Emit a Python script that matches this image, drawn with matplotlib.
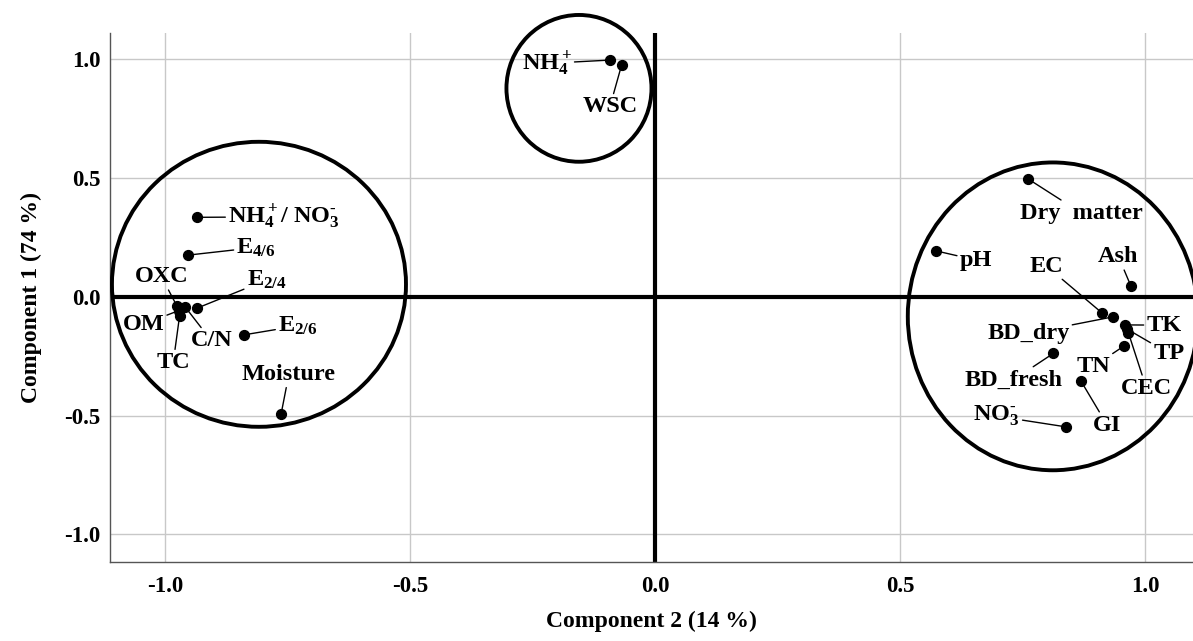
import matplotlib
matplotlib.use('Agg')
import matplotlib.pyplot as plt
from matplotlib.patches import Ellipse

plt.rcParams['font.family'] = ['Liberation Serif', 'DejaVu Serif']
plt.rcParams['font.weight'] = 'bold'
plt.rcParams['axes.unicode_minus'] = False
plt.rcParams['mathtext.fontset'] = 'custom'
plt.rcParams['mathtext.rm'] = 'Liberation Serif:bold'
plt.rcParams['mathtext.it'] = 'Liberation Serif:bold'
plt.rcParams['mathtext.bf'] = 'Liberation Serif:bold'

# loadings
variables = [r'NH$_4^+$/ NO$_3^{\text{-}}$', 'E$_{4/6}$', 'E$_{2/4}$', 'OXC', 'OM', 'TC', 'C/N',
             'E$_{2/6}$', 'Moisture', 'NH$_4^+$', 'WSC', 'Dry  matter', 'pH', 'Ash',
             'EC', 'BD_dry', 'TK', 'TP', 'CEC', 'TN', 'BD_fresh', 'GI', r'NO$_3^{\text{-}}$']
comp2 = [-0.935, -0.952, -0.935, -0.975, -0.972, -0.970, -0.958, -0.839, -0.763,
         -0.092, -0.068, 0.762, 0.573, 0.971, 0.912, 0.935, 0.960, 0.963, 0.966,
         0.957, 0.813, 0.869, 0.838]
comp1 = [0.335, 0.176, -0.048, -0.040, -0.058, -0.080, -0.044, -0.160, -0.495,
         0.997, 0.976, 0.496, 0.194, 0.047, -0.067, -0.084, -0.118, -0.135, -0.150,
         -0.207, -0.238, -0.353, -0.547]

# label placement (x, y, ha)
label_pos = [(-0.871, 0.337, 'left'), (-0.854, 0.208, 'left'), (-0.833, 0.071, 'left'),
             (-1.007, 0.085, 'center'), (-1.044, -0.115, 'center'), (-0.983, -0.277, 'center'),
             (-0.905, -0.185, 'center'), (-0.769, -0.122, 'left'), (-0.747, -0.326, 'center'),
             (-0.221, 0.983, 'center'), (-0.092, 0.800, 'center'), (0.871, 0.352, 'center'),
             (0.622, 0.155, 'left'), (0.946, 0.169, 'center'), (0.799, 0.130, 'center'),
             (0.762, -0.154, 'center'), (1.003, -0.119, 'left'), (1.017, -0.238, 'left'),
             (1.003, -0.385, 'center'), (0.894, -0.294, 'center'), (0.731, -0.350, 'center'),
             (0.923, -0.540, 'center'), (0.697, -0.502, 'center')]

# cluster outlines: centre x, centre y, width, height
groups = [(-0.808, 0.053, 0.600, 1.200), (-0.155, 0.878, 0.296, 0.618),
          (0.812, -0.082, 0.592, 1.296)]

fig = plt.figure(figsize=(11.93, 6.41), dpi=100)
ax = fig.add_axes([0.0922, 0.1237, 0.9078, 0.8248])

ax.set_xlim(-1.112, 1.098)
ax.set_ylim(-1.115, 1.111)
ax.set_xticks([-1.0, -0.5, 0.0, 0.5, 1.0])
ax.set_yticks([-1.0, -0.5, 0.0, 0.5, 1.0])
ax.grid(True, color='#c8c8c8', lw=1)
ax.set_axisbelow(True)
for s in ['top', 'right']:
    ax.spines[s].set_visible(False)
for s in ['left', 'bottom']:
    ax.spines[s].set_color('#555555')
    ax.spines[s].set_linewidth(1)
ax.tick_params(length=0, labelsize=16.5, pad=7)
ax.tick_params(axis='x', pad=10)

ax.axhline(0, color='black', lw=3, zorder=2)
ax.axvline(0, color='black', lw=3, zorder=2)

for cx, cy, w, h in groups:
    ax.add_patch(Ellipse((cx, cy), w, h, fill=False, ec='black', lw=2.8,
                         zorder=3, clip_on=False))

ax.scatter(comp2, comp1, s=50, color='black', zorder=5)

for name, x, y, (lx, ly, ha) in zip(variables, comp2, comp1, label_pos):
    ax.annotate(name, xy=(x, y), xytext=(lx, ly), ha=ha, va='center',
                fontsize=17.5, fontweight='bold',
                arrowprops=dict(arrowstyle='-', color='black', lw=1,
                                shrinkA=0, shrinkB=3), zorder=6)

ax.set_xlabel('Component 2 (14 %)', fontsize=17, fontweight='bold', labelpad=10)
ax.set_ylabel('Component 1 (74 %)', fontsize=17, fontweight='bold', labelpad=16)

plt.savefig('out.png', dpi=100)
